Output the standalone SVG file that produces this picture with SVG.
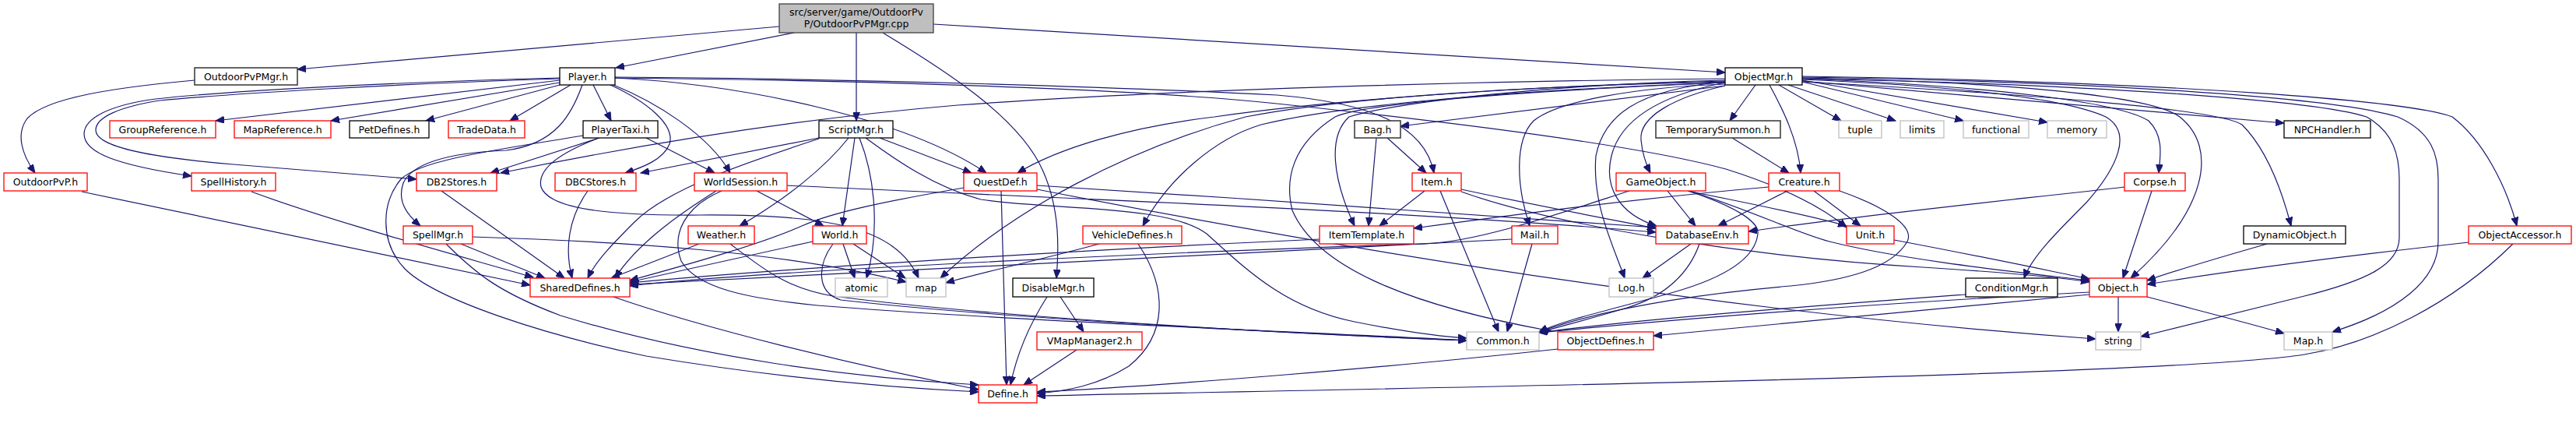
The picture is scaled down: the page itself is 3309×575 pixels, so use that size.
<svg xmlns="http://www.w3.org/2000/svg" width="3309" height="575" viewBox="0 0 3309 575">
<style>
.e{fill:none;stroke:#191970;stroke-width:1.2;marker-end:url(#a)}
rect{fill:#fff;stroke-width:1.3}
.b rect{stroke:#000}
.d rect{stroke:#404040;stroke-width:1.6}
.r rect{stroke:#ff0000}
.g rect{stroke:#bfbfbf}
text{font-family:"DejaVu Sans","Liberation Sans",sans-serif;font-size:12.5px;fill:#000;text-anchor:middle}
</style>
<defs>
<marker id="a" markerWidth="12" markerHeight="9" refX="11" refY="4.5" orient="auto" markerUnits="userSpaceOnUse"><path d="M0,0 L11,4.5 L0,9 z" fill="#191970" stroke="#191970" stroke-width="1"/></marker>
</defs>
<rect width="3309" height="575" fill="#fff" stroke="none"/>
<g id="edges">
<path class="e" d="M1001,34 L382,89"/>
<path class="e" d="M1020,42 L791,87"/>
<path class="e" d="M1100,42 L1100,155"/>
<path class="e" d="M1134,42 C1210,88 1310,150 1340,220 C1362,270 1360,320 1357,357"/>
<path class="e" d="M1199,31 L2216,93"/>
<path class="e" d="M250,103 C150,112 60,125 35,152 C20,172 28,198 45,222"/>
<path class="e" d="M105,246 L681,366"/>
<path class="e" d="M719,103 L277,155"/>
<path class="e" d="M719,106 L425,155"/>
<path class="e" d="M719,109 L547,155"/>
<path class="e" d="M733,109 L655,155"/>
<path class="e" d="M762,109 L785,155"/>
<path class="e" d="M719,100 C500,106 300,116 200,127 C140,135 108,152 108,172 C108,196 150,212 246,226"/>
<path class="e" d="M719,101 C500,108 300,120 205,129 C155,137 123,150 123,167 C123,185 170,200 300,211 C400,219 480,226 535,230"/>
<path class="e" d="M784,109 C830,130 868,160 860,185 C852,205 825,215 803,222"/>
<path class="e" d="M788,109 C840,130 910,172 938,222"/>
<path class="e" d="M748,109 C735,145 715,185 650,193 C570,196 528,212 518,235 C510,258 522,275 540,290"/>
<path class="e" d="M790,100 C950,108 1160,150 1267,222"/>
<path class="e" d="M790,99 C1100,101 1450,112 1640,122 C1760,132 1830,160 1842,222"/>
<path class="e" d="M790,100 C1200,104 1500,118 1640,133 C1850,155 2100,185 2217,217 C2290,240 2340,265 2372,292"/>
<path class="e" d="M770,177 L630,222"/>
<path class="e" d="M830,177 L918,222"/>
<path class="e" d="M767,178 C715,198 690,218 695,240 C705,268 780,277 900,276 C1060,275 1150,290 1180,357"/>
<path class="e" d="M749,174 C640,192 540,205 515,230 C490,260 487,310 520,345 C560,385 700,430 830,457 C1000,485 1150,498 1257,503"/>
<path class="e" d="M592,313 L700,357"/>
<path class="e" d="M607,304 C800,310 1000,322 1164,362"/>
<path class="e" d="M573,313 C610,350 640,375 720,405 C900,460 1100,485 1257,494"/>
<path class="e" d="M567,245 L725,357"/>
<path class="e" d="M755,245 C730,280 725,320 735,357"/>
<path class="e" d="M323,246 C420,282 560,320 685,356"/>
<path class="e" d="M1052,177 L823,222"/>
<path class="e" d="M1052,178 C970,205 860,240 815,285 C790,310 765,335 755,357"/>
<path class="e" d="M1090,177 C1060,215 1010,255 950,290"/>
<path class="e" d="M1098,177 L1082,290"/>
<path class="e" d="M1104,177 C1125,230 1130,300 1113,357"/>
<path class="e" d="M1130,177 L1248,222"/>
<path class="e" d="M1112,177 C1150,205 1200,240 1260,256 C1350,270 1500,262 1550,300 C1600,345 1650,395 1740,413 C1800,425 1850,432 1884,434"/>
<path class="e" d="M972,245 L1058,290"/>
<path class="e" d="M920,245 C880,270 820,310 790,357"/>
<path class="e" d="M927,245 C880,265 862,300 875,335 C895,370 960,383 1050,392 C1300,412 1700,427 1884,437"/>
<path class="e" d="M1011,238 C1300,252 1800,270 2127,298"/>
<path class="e" d="M898,313 L785,357"/>
<path class="e" d="M938,313 C980,345 1010,370 1070,380 C1300,410 1700,430 1884,437"/>
<path class="e" d="M1044,310 L809,362"/>
<path class="e" d="M1070,313 C1050,340 1048,375 1080,385 C1300,410 1700,430 1884,437"/>
<path class="e" d="M1083,313 L1098,357"/>
<path class="e" d="M1096,313 L1163,357"/>
<path class="e" d="M1238,241 C1140,258 1070,272 1030,290 C980,312 900,335 809,360"/>
<path class="e" d="M1286,245 L1293,494"/>
<path class="e" d="M1332,238 C1600,255 1900,275 2127,292"/>
<path class="e" d="M1332,243 C1700,315 2200,400 2692,435"/>
<path class="e" d="M1412,313 C1350,330 1260,350 1215,363"/>
<path class="e" d="M1462,313 C1500,370 1500,430 1450,470 C1410,495 1370,502 1332,505"/>
<path class="e" d="M1345,381 C1320,420 1305,460 1298,494"/>
<path class="e" d="M1362,381 L1392,426"/>
<path class="e" d="M1383,449 L1315,494"/>
<path class="e" d="M2216,101 C1900,104 1500,115 1230,135 C1050,150 850,180 643,222"/>
<path class="e" d="M2216,104 C1950,110 1700,130 1560,150 C1450,163 1360,190 1307,222"/>
<path class="e" d="M2216,106 C1950,115 1720,135 1620,160 C1560,178 1500,230 1468,290"/>
<path class="e" d="M2216,105 C1900,112 1700,130 1600,150 C1450,190 1300,270 1208,357"/>
<path class="e" d="M2216,103 C2000,108 1800,130 1733,150 C1705,175 1712,230 1740,290"/>
<path class="e" d="M2216,110 L1799,162"/>
<path class="e" d="M2216,108 C2100,112 2000,130 1970,155 C1945,180 1948,240 1965,290"/>
<path class="e" d="M2216,106 C2000,115 1760,130 1715,150 C1660,185 1650,230 1660,270 C1690,340 1800,390 1993,425"/>
<path class="e" d="M2216,110 C2150,125 2105,150 2108,180 C2110,200 2115,212 2120,222"/>
<path class="e" d="M2216,106 C2120,125 2080,160 2070,200 C2060,240 2080,275 2128,290"/>
<path class="e" d="M2216,105 C2100,115 2060,150 2050,200 C2045,260 2070,310 2087,357"/>
<path class="e" d="M2255,109 L2222,155"/>
<path class="e" d="M2273,109 C2290,140 2310,180 2313,222"/>
<path class="e" d="M2285,109 L2365,155"/>
<path class="e" d="M2297,109 L2435,155"/>
<path class="e" d="M2315,105 L2522,155"/>
<path class="e" d="M2315,103 L2630,157"/>
<path class="e" d="M2315,102 C2500,110 2650,125 2705,150 C2740,170 2720,215 2680,260 C2640,300 2610,330 2600,357"/>
<path class="e" d="M2315,101 C2550,110 2720,130 2760,155 C2780,175 2775,200 2773,222"/>
<path class="e" d="M2315,100 C2550,105 2760,120 2800,150 C2850,190 2835,270 2737,357"/>
<path class="e" d="M2315,104 L2934,158"/>
<path class="e" d="M2315,105 C2600,120 2850,140 2880,160 C2910,190 2930,240 2943,290"/>
<path class="e" d="M2315,99 C2700,105 3000,125 3080,150 C3125,170 3132,200 3132,230 L3132,310 C3132,360 3080,400 2996,426"/>
<path class="e" d="M2315,101 C2700,108 2980,130 3040,150 C3075,170 3082,200 3082,230 L3082,305 C3082,340 3040,360 2960,380 C2880,400 2800,420 2750,432"/>
<path class="e" d="M2315,98 C2800,105 3100,130 3150,150 C3190,180 3220,240 3233,290"/>
<path class="e" d="M2225,177 L2298,222"/>
<path class="e" d="M2296,245 L2207,290"/>
<path class="e" d="M2330,245 L2390,290"/>
<path class="e" d="M2272,240 C2100,255 1950,275 1816,293"/>
<path class="e" d="M2363,245 C2420,265 2460,290 2450,310 C2430,345 2370,360 2300,367 C2150,380 2050,400 1977,426"/>
<path class="e" d="M2142,245 L2178,290"/>
<path class="e" d="M2168,245 C2250,262 2320,275 2372,290"/>
<path class="e" d="M2170,245 C2250,270 2310,300 2350,310 C2450,335 2600,350 2684,360"/>
<path class="e" d="M2168,245 C2230,265 2260,285 2258,300 C2255,330 2220,355 2150,375 C2080,395 2010,410 1977,426"/>
<path class="e" d="M2093,245 C2000,275 1900,310 1830,313 C1600,320 1000,345 809,367"/>
<path class="e" d="M1695,307 C1400,320 1000,345 809,363"/>
<path class="e" d="M1942,307 C1600,325 1100,350 809,365"/>
<path class="e" d="M1968,313 L1936,426"/>
<path class="e" d="M1782,177 L1832,222"/>
<path class="e" d="M1768,177 L1758,290"/>
<path class="e" d="M1830,245 L1772,290"/>
<path class="e" d="M1850,245 L1925,426"/>
<path class="e" d="M1877,243 C1980,265 2060,280 2127,293"/>
<path class="e" d="M1877,246 C2000,290 2250,330 2470,343 C2580,350 2640,355 2684,362"/>
<path class="e" d="M2433,308 C2550,330 2620,345 2684,358"/>
<path class="e" d="M2172,313 L2110,357"/>
<path class="e" d="M2183,313 C2170,350 2140,380 2090,395 C2040,410 2000,420 1977,427"/>
<path class="e" d="M2729,240 C2600,255 2400,275 2246,297"/>
<path class="e" d="M2764,245 L2727,357"/>
<path class="e" d="M2912,313 C2860,328 2800,345 2758,360"/>
<path class="e" d="M3171,311 C3000,330 2850,350 2758,365"/>
<path class="e" d="M3228,313 C3150,390 3050,440 2960,455 C2800,480 2000,495 1332,508"/>
<path class="e" d="M2525,378 C2300,395 2100,410 1977,427"/>
<path class="e" d="M2721,381 L2721,426"/>
<path class="e" d="M2758,381 C2830,400 2890,415 2934,428"/>
<path class="e" d="M2684,378 C2500,395 2300,415 2124,431"/>
<path class="e" d="M2684,375 C2400,390 2150,410 1977,427"/>
<path class="e" d="M2001,448 C1800,470 1500,495 1332,503"/>
<path class="e" d="M788,381 C900,420 1100,470 1257,500"/>
</g>
<g id="root"><rect x="1001" y="5" width="198" height="37" style="fill:#bfbfbf;stroke:#404040"/><text x="1100" y="20">src/server/game/OutdoorPv</text><text x="1100" y="35">P/OutdoorPvPMgr.cpp</text></g>
<g id="OutdoorPvPMgr" class="d"><rect x="250" y="87" width="132" height="22"/><text x="316" y="102.5">OutdoorPvPMgr.h</text></g>
<g id="Player" class="b"><rect x="719" y="87" width="71" height="22"/><text x="754.5" y="102.5">Player.h</text></g>
<g id="ObjectMgr" class="b"><rect x="2216" y="87" width="99" height="22"/><text x="2265.5" y="102.5">ObjectMgr.h</text></g>
<g id="GroupReference" class="r"><rect x="141" y="155" width="136" height="22"/><text x="209" y="170.5">GroupReference.h</text></g>
<g id="MapReference" class="r"><rect x="301" y="155" width="124" height="22"/><text x="363" y="170.5">MapReference.h</text></g>
<g id="PetDefines" class="b"><rect x="449" y="155" width="102" height="22"/><text x="500" y="170.5">PetDefines.h</text></g>
<g id="TradeData" class="r"><rect x="576" y="155" width="98" height="22"/><text x="625" y="170.5">TradeData.h</text></g>
<g id="PlayerTaxi" class="b"><rect x="749" y="155" width="96" height="22"/><text x="797" y="170.5">PlayerTaxi.h</text></g>
<g id="ScriptMgr" class="b"><rect x="1052" y="155" width="95" height="22"/><text x="1099.5" y="170.5">ScriptMgr.h</text></g>
<g id="Bag" class="d"><rect x="1740" y="155" width="59" height="22"/><text x="1769.5" y="170.5">Bag.h</text></g>
<g id="TemporarySummon" class="d"><rect x="2127" y="155" width="160" height="22"/><text x="2207" y="170.5">TemporarySummon.h</text></g>
<g id="tuple" class="g"><rect x="2362" y="155" width="55" height="22"/><text x="2389.5" y="170.5">tuple</text></g>
<g id="limits" class="g"><rect x="2441" y="155" width="56" height="22"/><text x="2469" y="170.5">limits</text></g>
<g id="functional" class="g"><rect x="2522" y="155" width="84" height="22"/><text x="2564" y="170.5">functional</text></g>
<g id="memory" class="g"><rect x="2630" y="155" width="76" height="22"/><text x="2668" y="170.5">memory</text></g>
<g id="NPCHandler" class="b"><rect x="2934" y="155" width="111" height="22"/><text x="2989.5" y="170.5">NPCHandler.h</text></g>
<g id="OutdoorPvP" class="r"><rect x="5" y="222" width="107" height="23"/><text x="58.5" y="238">OutdoorPvP.h</text></g>
<g id="SpellHistory" class="r"><rect x="246" y="222" width="108" height="23"/><text x="300" y="238">SpellHistory.h</text></g>
<g id="DB2Stores" class="r"><rect x="535" y="222" width="103" height="23"/><text x="586.5" y="238">DB2Stores.h</text></g>
<g id="DBCStores" class="r"><rect x="713" y="222" width="104" height="23"/><text x="765" y="238">DBCStores.h</text></g>
<g id="WorldSession" class="r"><rect x="892" y="222" width="119" height="23"/><text x="951.5" y="238">WorldSession.h</text></g>
<g id="QuestDef" class="r"><rect x="1238" y="222" width="94" height="23"/><text x="1285" y="238">QuestDef.h</text></g>
<g id="Item" class="r"><rect x="1814" y="222" width="63" height="23"/><text x="1845.5" y="238">Item.h</text></g>
<g id="GameObject" class="r"><rect x="2076" y="222" width="115" height="23"/><text x="2133.5" y="238">GameObject.h</text></g>
<g id="Creature" class="r"><rect x="2272" y="222" width="91" height="23"/><text x="2317.5" y="238">Creature.h</text></g>
<g id="Corpse" class="r"><rect x="2729" y="222" width="78" height="23"/><text x="2768" y="238">Corpse.h</text></g>
<g id="SpellMgr" class="r"><rect x="518" y="290" width="89" height="23"/><text x="562.5" y="306">SpellMgr.h</text></g>
<g id="Weather" class="r"><rect x="884" y="290" width="85" height="23"/><text x="926.5" y="306">Weather.h</text></g>
<g id="World" class="r"><rect x="1044" y="290" width="69" height="23"/><text x="1078.5" y="306">World.h</text></g>
<g id="VehicleDefines" class="r"><rect x="1391" y="290" width="127" height="23"/><text x="1454.5" y="306">VehicleDefines.h</text></g>
<g id="ItemTemplate" class="r"><rect x="1695" y="290" width="121" height="23"/><text x="1755.5" y="306">ItemTemplate.h</text></g>
<g id="Mail" class="r"><rect x="1942" y="290" width="59" height="23"/><text x="1971.5" y="306">Mail.h</text></g>
<g id="DatabaseEnv" class="r"><rect x="2127" y="290" width="119" height="23"/><text x="2186.5" y="306">DatabaseEnv.h</text></g>
<g id="Unit" class="r"><rect x="2372" y="290" width="61" height="23"/><text x="2402.5" y="306">Unit.h</text></g>
<g id="DynamicObject" class="b"><rect x="2882" y="290" width="131" height="23"/><text x="2947.5" y="306">DynamicObject.h</text></g>
<g id="ObjectAccessor" class="r"><rect x="3171" y="290" width="132" height="23"/><text x="3237" y="306">ObjectAccessor.h</text></g>
<g id="SharedDefines" class="r"><rect x="681" y="357" width="128" height="24"/><text x="745" y="373.5">SharedDefines.h</text></g>
<g id="atomic" class="g"><rect x="1073" y="357" width="67" height="24"/><text x="1106.5" y="373.5">atomic</text></g>
<g id="map" class="g"><rect x="1164" y="357" width="51" height="24"/><text x="1189.5" y="373.5">map</text></g>
<g id="DisableMgr" class="b"><rect x="1301" y="357" width="104" height="24"/><text x="1353" y="373.5">DisableMgr.h</text></g>
<g id="Log" class="g"><rect x="2067" y="357" width="57" height="24"/><text x="2095.5" y="373.5">Log.h</text></g>
<g id="ConditionMgr" class="b"><rect x="2525" y="357" width="118" height="24"/><text x="2584" y="373.5">ConditionMgr.h</text></g>
<g id="Object" class="r"><rect x="2684" y="357" width="74" height="24"/><text x="2721" y="373.5">Object.h</text></g>
<g id="Common" class="g"><rect x="1884" y="426" width="93" height="23"/><text x="1930.5" y="442">Common.h</text></g>
<g id="ObjectDefines" class="r"><rect x="2001" y="426" width="123" height="23"/><text x="2062.5" y="442">ObjectDefines.h</text></g>
<g id="string" class="g"><rect x="2692" y="426" width="58" height="23"/><text x="2721" y="442">string</text></g>
<g id="MapH" class="g"><rect x="2934" y="426" width="62" height="23"/><text x="2965" y="442">Map.h</text></g>
<g id="VMapManager2" class="r"><rect x="1332" y="426" width="135" height="23"/><text x="1399.5" y="442">VMapManager2.h</text></g>
<g id="Define" class="r"><rect x="1257" y="494" width="75" height="23"/><text x="1294.5" y="510">Define.h</text></g>
</svg>
